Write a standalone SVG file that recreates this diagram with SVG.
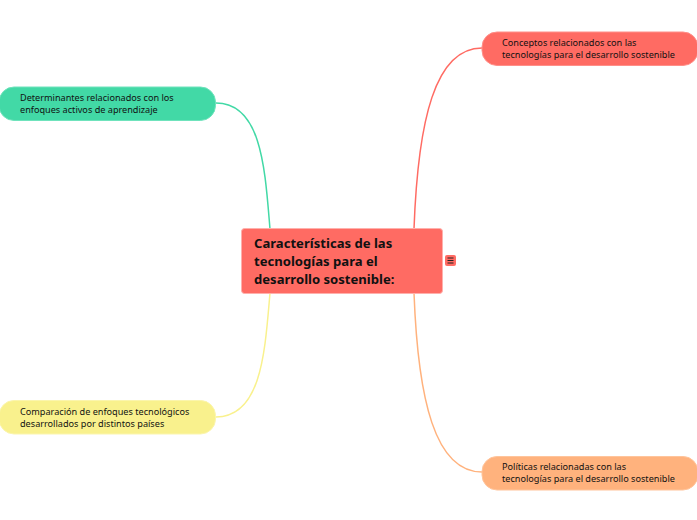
<svg xmlns="http://www.w3.org/2000/svg" width="697" height="520" viewBox="0 0 697 520">
<style>
text{font-family:"Noto Sans","Open Sans",sans-serif;fill:#111}
.s{font-size:9.15px}
.m{font-size:13.1px;font-weight:700}
.c{fill:none;stroke-width:1.5}
.n{stroke-width:1}
</style>
<rect width="697" height="520" fill="#fff"/>
<g id="connectors">
<path class="c" stroke="#ff6b63" d="M414 229C418 120 435 48 482 48"/>
<path class="c" stroke="#42d9a6" d="M270 229C265 170 262 103 216 103"/>
<path class="c" stroke="#f9f18d" d="M270 293C265 350 262 417 216 417"/>
<path class="c" stroke="#ffb27d" d="M414 293C418 400 435 472 482 472"/>
</g>
<g id="central">
<rect x="241.500" y="228.500" width="201" height="65" rx="3" fill="#ff6b63" stroke="#ffb0ac"/>
<text class="m" x="254" y="248">Características de las</text>
<text class="m" x="254" y="266">tecnologías para el</text>
<text class="m" x="254" y="284">desarrollo sostenible:</text>
</g>
<g id="notes">
<rect x="445" y="255" width="11" height="11" rx="2" fill="#ff6b63"/>
<path d="M447.500 258H453.500M447.500 260.500H453.500M447.500 263H453.500" stroke="#222" stroke-width="1" fill="none"/>
</g>
<g id="conceptos">
<rect class="n" x="482" y="32" width="216" height="33.500" rx="15" fill="#ff6b63" stroke="#ff8f89"/>
<text class="s" x="502" y="46">Conceptos relacionados con las</text>
<text class="s" x="502" y="58">tecnologías para el desarrollo sostenible</text>
</g>
<g id="determinantes">
<rect class="n" x="-1" y="87" width="216.500" height="33.500" rx="15" fill="#42d9a6" stroke="#6fe3bc"/>
<text class="s" x="20" y="101">Determinantes relacionados con los</text>
<text class="s" x="20" y="113">enfoques activos de aprendizaje</text>
</g>
<g id="comparacion">
<rect class="n" x="-1" y="400.500" width="216.500" height="33.500" rx="15" fill="#f9f18d" stroke="#fbf5ac"/>
<text class="s" x="20" y="415">Comparación de enfoques tecnológicos</text>
<text class="s" x="20" y="427">desarrollados por distintos países</text>
</g>
<g id="politicas">
<rect class="n" x="482" y="456.500" width="216" height="33.500" rx="15" fill="#ffb27d" stroke="#ffc49b"/>
<text class="s" x="502" y="470">Políticas relacionadas con las</text>
<text class="s" x="502" y="482">tecnologías para el desarrollo sostenible</text>
</g>
</svg>
